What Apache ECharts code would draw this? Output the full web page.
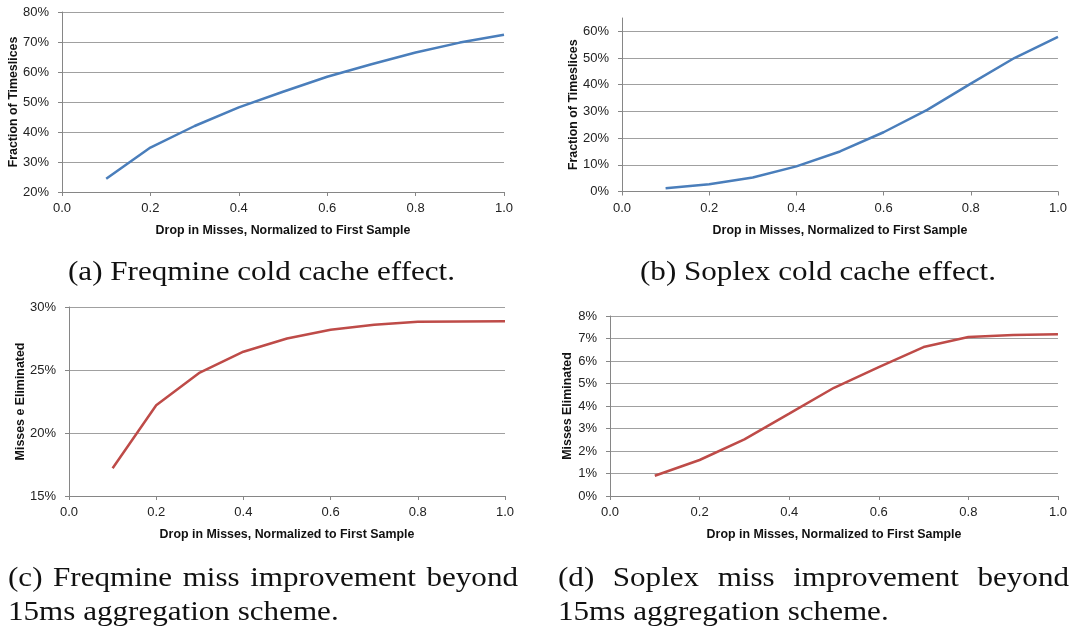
<!DOCTYPE html>
<html>
<head>
<meta charset="utf-8">
<script src="https://cdn.jsdelivr.net/npm/echarts@6/dist/echarts.min.js"></script>
<style>
  html, body { margin: 0; padding: 0; background: #fff; }
  #chart { width: 1070px; height: 630px; }
</style>
</head>
<body>
<div id="chart"></div>
<script>
// Normalized drop in misses (x axis, shared by all four panels)
const dropInMisses = [0.1, 0.2, 0.3, 0.4, 0.5, 0.6, 0.7, 0.8, 0.9, 1.0];

// (a) Freqmine: fraction of timeslices (%)
const freqmineCold = [24.4, 34.8, 42.0, 48.2, 53.4, 58.4, 62.6, 66.5, 69.8, 72.4];
// (b) Soplex: fraction of timeslices (%)
const soplexCold = [1.25, 2.75, 5.25, 9.4, 15.0, 22.2, 30.6, 40.4, 50.0, 57.9];
// (c) Freqmine: misses eliminated (%)
const freqmineMiss = [17.2, 22.2, 24.8, 26.45, 27.5, 28.2, 28.6, 28.83, 28.85, 28.86];
// (d) Soplex: misses eliminated (%)
const soplexMiss = [0.9, 1.6, 2.52, 3.66, 4.81, 5.73, 6.62, 7.07, 7.16, 7.19];

const xTitle = 'Drop in Misses, Normalized to First Sample';
const yTitles = ['Fraction of Timeslices', 'Fraction of Timeslices', 'Misses e Eliminated', 'Misses Eliminated'];

const captionA = '(a) Freqmine cold cache effect.';
const captionB = '(b) Soplex cold cache effect.';
const captionC = ['(c) Freqmine miss improvement beyond', '15ms aggregation scheme.'];
const captionD = ['(d) Soplex miss improvement beyond', '15ms aggregation scheme.'];

const BLUE = '#4a7ebb';
const RED = '#be4b48';
const GRID_GRAY = '#a0a0a0';
const AXIS_GRAY = '#868686';
const TICK_FONT = 'Liberation Sans';

// Plot rectangles for the four panels
const grids = [
  { left: 62, top: 12, width: 442, height: 180 },
  { left: 622, top: 18, width: 436, height: 173.5 },
  { left: 69, top: 307, width: 436, height: 189 },
  { left: 610, top: 316, width: 448, height: 180 }
];

// Value ranges; labelTop is the highest labelled tick (panel b's axis runs a little past it)
const yAxes = [
  { min: 20, max: 80, labelTop: 80, interval: 10, nameGap: 42 },
  { min: 0, max: 65, labelTop: 60, interval: 10, nameGap: 38 },
  { min: 15, max: 30, labelTop: 30, interval: 5, nameGap: 40 },
  { min: 0, max: 8, labelTop: 8, interval: 1, nameGap: 36 }
];

const seriesValues = [freqmineCold, soplexCold, freqmineMiss, soplexMiss];
const seriesColors = [BLUE, BLUE, RED, RED];

const titleStyle = { fontFamily: TICK_FONT, fontWeight: 'bold', fontSize: 12.4, color: '#111' };

function xAxisFor(i) {
  return {
    type: 'value', gridIndex: i, min: 0, max: 1, interval: 0.2,
    name: xTitle, nameLocation: 'middle', nameGap: 33,
    nameTextStyle: titleStyle,
    axisLine: { show: true, lineStyle: { color: AXIS_GRAY, width: 1 } },
    axisTick: { show: true, length: 4, lineStyle: { color: AXIS_GRAY } },
    splitLine: { show: false },
    axisLabel: {
      margin: 10, fontFamily: TICK_FONT, fontSize: 13, color: '#222',
      formatter: v => v.toFixed(1)
    }
  };
}

function yAxisFor(i) {
  const a = yAxes[i];
  const ticks = [];
  for (let v = a.min; v <= a.labelTop + 1e-9; v += a.interval) ticks.push(v);
  return {
    type: 'value', gridIndex: i, min: a.min, max: a.max, interval: a.interval,
    name: yTitles[i], nameLocation: 'middle', nameGap: a.nameGap, nameRotate: 90,
    nameTextStyle: titleStyle,
    axisLine: { show: true, lineStyle: { color: AXIS_GRAY, width: 1 } },
    axisTick: { show: true, length: 4, lineStyle: { color: AXIS_GRAY }, customValues: ticks },
    splitLine: { show: true, lineStyle: { color: GRID_GRAY, width: 1 } },
    axisLabel: {
      margin: 13, fontFamily: TICK_FONT, fontSize: 13, color: '#222',
      customValues: ticks,
      formatter: v => Math.round(v) + '%'
    }
  };
}

const chart = echarts.init(document.getElementById('chart'), null, { renderer: 'canvas' });

// Caption layout: serif text, measured so each line spans its column
const CAP_FAMILY = '"Liberation Serif", "Times New Roman", Times, serif';
const CAP_SIZE = 27;
const measureCtx = document.createElement('canvas').getContext('2d');
measureCtx.font = CAP_SIZE + 'px ' + CAP_FAMILY;
const capScale = 387 / measureCtx.measureText(captionA).width;

function capText(text, x, y) {
  return {
    type: 'text', x: x, y: y, scaleX: capScale,
    style: {
      text: text, font: CAP_SIZE + 'px ' + CAP_FAMILY, fill: '#111',
      textAlign: 'left', textVerticalAlign: 'middle'
    }
  };
}

// Spread the words of a line evenly between two edges
function justified(text, x0, x1, y) {
  const words = text.split(' ');
  const widths = words.map(w => measureCtx.measureText(w).width * capScale);
  const total = widths.reduce((s, w) => s + w, 0);
  const gap = (x1 - x0 - total) / (words.length - 1);
  const out = [];
  let x = x0;
  words.forEach((w, k) => {
    out.push(capText(w, x, y));
    x += widths[k] + gap;
  });
  return out;
}

const graphics = [
  capText(captionA, 68, 273),
  capText(captionB, 640, 273),
  ...justified(captionC[0], 8, 518, 579),
  capText(captionC[1], 8, 613),
  ...justified(captionD[0], 558, 1069, 579),
  capText(captionD[1], 558, 613)
];

chart.setOption({
  backgroundColor: '#fff',
  animation: false,
  grid: grids.map(g => Object.assign({ containLabel: false }, g)),
  xAxis: grids.map((g, i) => xAxisFor(i)),
  yAxis: grids.map((g, i) => yAxisFor(i)),
  series: seriesValues.map((vals, i) => ({
    type: 'line', xAxisIndex: i, yAxisIndex: i,
    data: dropInMisses.map((x, k) => [x, vals[k]]),
    showSymbol: false, symbol: 'none',
    lineStyle: { color: seriesColors[i], width: 2.5 },
    itemStyle: { color: seriesColors[i] }
  })),
  graphic: graphics
});
</script>
</body>
</html>
